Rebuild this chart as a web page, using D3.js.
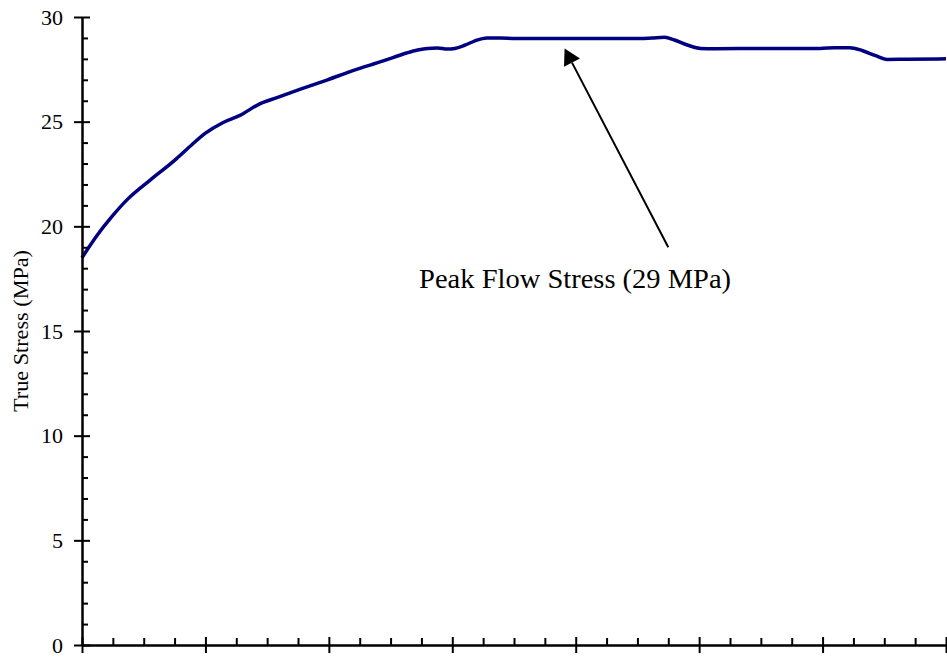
<!DOCTYPE html>
<html>
<head>
<meta charset="utf-8">
<script src="https://cdn.jsdelivr.net/npm/d3@7"></script>
<style>
  html, body { margin: 0; padding: 0; background: #fff; }
  svg { display: block; }
  text { font-family: "Liberation Serif", "Times New Roman", Times, serif; fill: #000; }
</style>
</head>
<body>
<svg id="chart" width="947" height="658"></svg>
<script>
// True strain (x) and true stress in MPa (y) of the flow curve
const strain = [0, 0.012, 0.024, 0.037, 0.055, 0.075, 0.089, 0.100, 0.114, 0.128,
  0.144, 0.158, 0.177, 0.199, 0.220, 0.244, 0.263, 0.272, 0.280, 0.288,
  0.296, 0.302, 0.310, 0.318, 0.328, 0.339, 0.351, 0.371, 0.420, 0.452,
  0.462, 0.472, 0.480, 0.491, 0.501, 0.513, 0.549, 0.598, 0.610, 0.622,
  0.632, 0.643, 0.652, 0.667, 0.700];
const stress = [18.5, 19.55, 20.45, 21.3, 22.2, 23.15, 23.9, 24.45, 24.95, 25.3,
  25.85, 26.15, 26.55, 27.0, 27.45, 27.9, 28.28, 28.42, 28.5, 28.52,
  28.47, 28.5, 28.65, 28.85, 29.0, 29.0, 28.97, 28.97, 28.97, 28.97,
  29.0, 29.03, 28.9, 28.65, 28.5, 28.48, 28.5, 28.5, 28.53, 28.53,
  28.4, 28.15, 27.97, 27.98, 28.0];

// Axis ticks
const yMajorTicks = [0, 5, 10, 15, 20, 25, 30];
const yMinorTicks = d3.range(0, 31, 1).filter(v => v % 5 !== 0);
const xMajorTicks = [0, 0.1, 0.2, 0.3, 0.4, 0.5, 0.6, 0.7];
const xMinorTicks = d3.range(0, 0.7001, 0.025).filter((v, i) => i % 4 !== 0);

const yTitle = "True Stress (MPa)";
const peakLabel = "Peak Flow Stress (29 MPa)";
const peakPoint = [0.391, 28.5];   // arrow tip, just under the plateau
const peakTail = [0.475, 19.0];    // arrow tail above the label
const peakText = [0.3995, 17.05];  // label centre / baseline

const svg = d3.select("#chart");
const plotLeft = 82, plotTop = 17, plotRight = 946, plotBottom = 645;

const x = d3.scaleLinear().domain([0, 0.7]).range([plotLeft, plotRight]);
const y = d3.scaleLinear().domain([0, 30]).range([plotBottom, plotTop]);

// curve
const data = strain.map((s, i) => [s, stress[i]]);
svg.append("path")
  .datum(data)
  .attr("fill", "none")
  .attr("stroke", "#000080")
  .attr("stroke-width", 3.5)
  .attr("stroke-linejoin", "round")
  .attr("d", d3.line().x(d => x(d[0])).y(d => y(d[1])).curve(d3.curveMonotoneX));

function styleAxis(g) {
  g.select(".domain").attr("stroke", "#000").attr("stroke-width", 2);
  g.selectAll(".tick line").attr("stroke", "#000").attr("stroke-width", 2);
}

// y axis: major ticks cross the line, minor ticks point inward
const yMinor = svg.append("g").attr("transform", `translate(${plotLeft},0)`)
  .call(d3.axisLeft(y).tickValues(yMinorTicks).tickSize(-6).tickSizeOuter(0).tickFormat(""));
styleAxis(yMinor);
const yMajor = svg.append("g").attr("transform", `translate(${plotLeft},0)`)
  .call(d3.axisLeft(y).tickValues(yMajorTicks).tickSize(8).tickSizeOuter(0).tickPadding(11));
styleAxis(yMajor);
yMajor.selectAll(".tick line").attr("x1", 8);
yMajor.selectAll(".tick text")
  .style("font-family", '"Liberation Serif", "Times New Roman", serif')
  .style("font-size", "22px")
  .attr("fill", "#000");

// x axis: no labels
const xMinor = svg.append("g").attr("transform", `translate(0,${plotBottom})`)
  .call(d3.axisBottom(x).tickValues(xMinorTicks).tickSize(-7).tickSizeOuter(0).tickFormat(""));
styleAxis(xMinor);
const xMajor = svg.append("g").attr("transform", `translate(0,${plotBottom})`)
  .call(d3.axisBottom(x).tickValues(xMajorTicks).tickSize(8).tickSizeOuter(0).tickFormat(""));
styleAxis(xMajor);
xMajor.selectAll(".tick line").attr("y1", -8);

// y axis title
svg.append("text")
  .attr("transform", `translate(28,${(plotTop + plotBottom) / 2}) rotate(-90)`)
  .attr("text-anchor", "middle")
  .attr("textLength", 162)
  .attr("lengthAdjust", "spacingAndGlyphs")
  .style("font-size", "22px")
  .text(yTitle);

// peak annotation arrow
const tip = [x(peakPoint[0]), y(peakPoint[1])];
const tail = [x(peakTail[0]), y(peakTail[1])];
const dx = tip[0] - tail[0], dy = tip[1] - tail[1];
const len = Math.hypot(dx, dy);
const ux = dx / len, uy = dy / len;
const headLen = 16, headHalf = 9;
const base = [tip[0] - ux * headLen, tip[1] - uy * headLen];
svg.append("line")
  .attr("x1", tail[0]).attr("y1", tail[1])
  .attr("x2", base[0]).attr("y2", base[1])
  .attr("stroke", "#000").attr("stroke-width", 2);
svg.append("path")
  .attr("fill", "#000")
  .attr("d", `M${tip[0]},${tip[1]}L${base[0] - uy * headHalf},${base[1] + ux * headHalf}L${base[0] + uy * headHalf},${base[1] - ux * headHalf}Z`);

svg.append("text")
  .attr("x", x(peakText[0]))
  .attr("y", y(peakText[1]))
  .attr("text-anchor", "middle")
  .attr("textLength", 312)
  .attr("lengthAdjust", "spacingAndGlyphs")
  .style("font-size", "27px")
  .text(peakLabel);
</script>
</body>
</html>
